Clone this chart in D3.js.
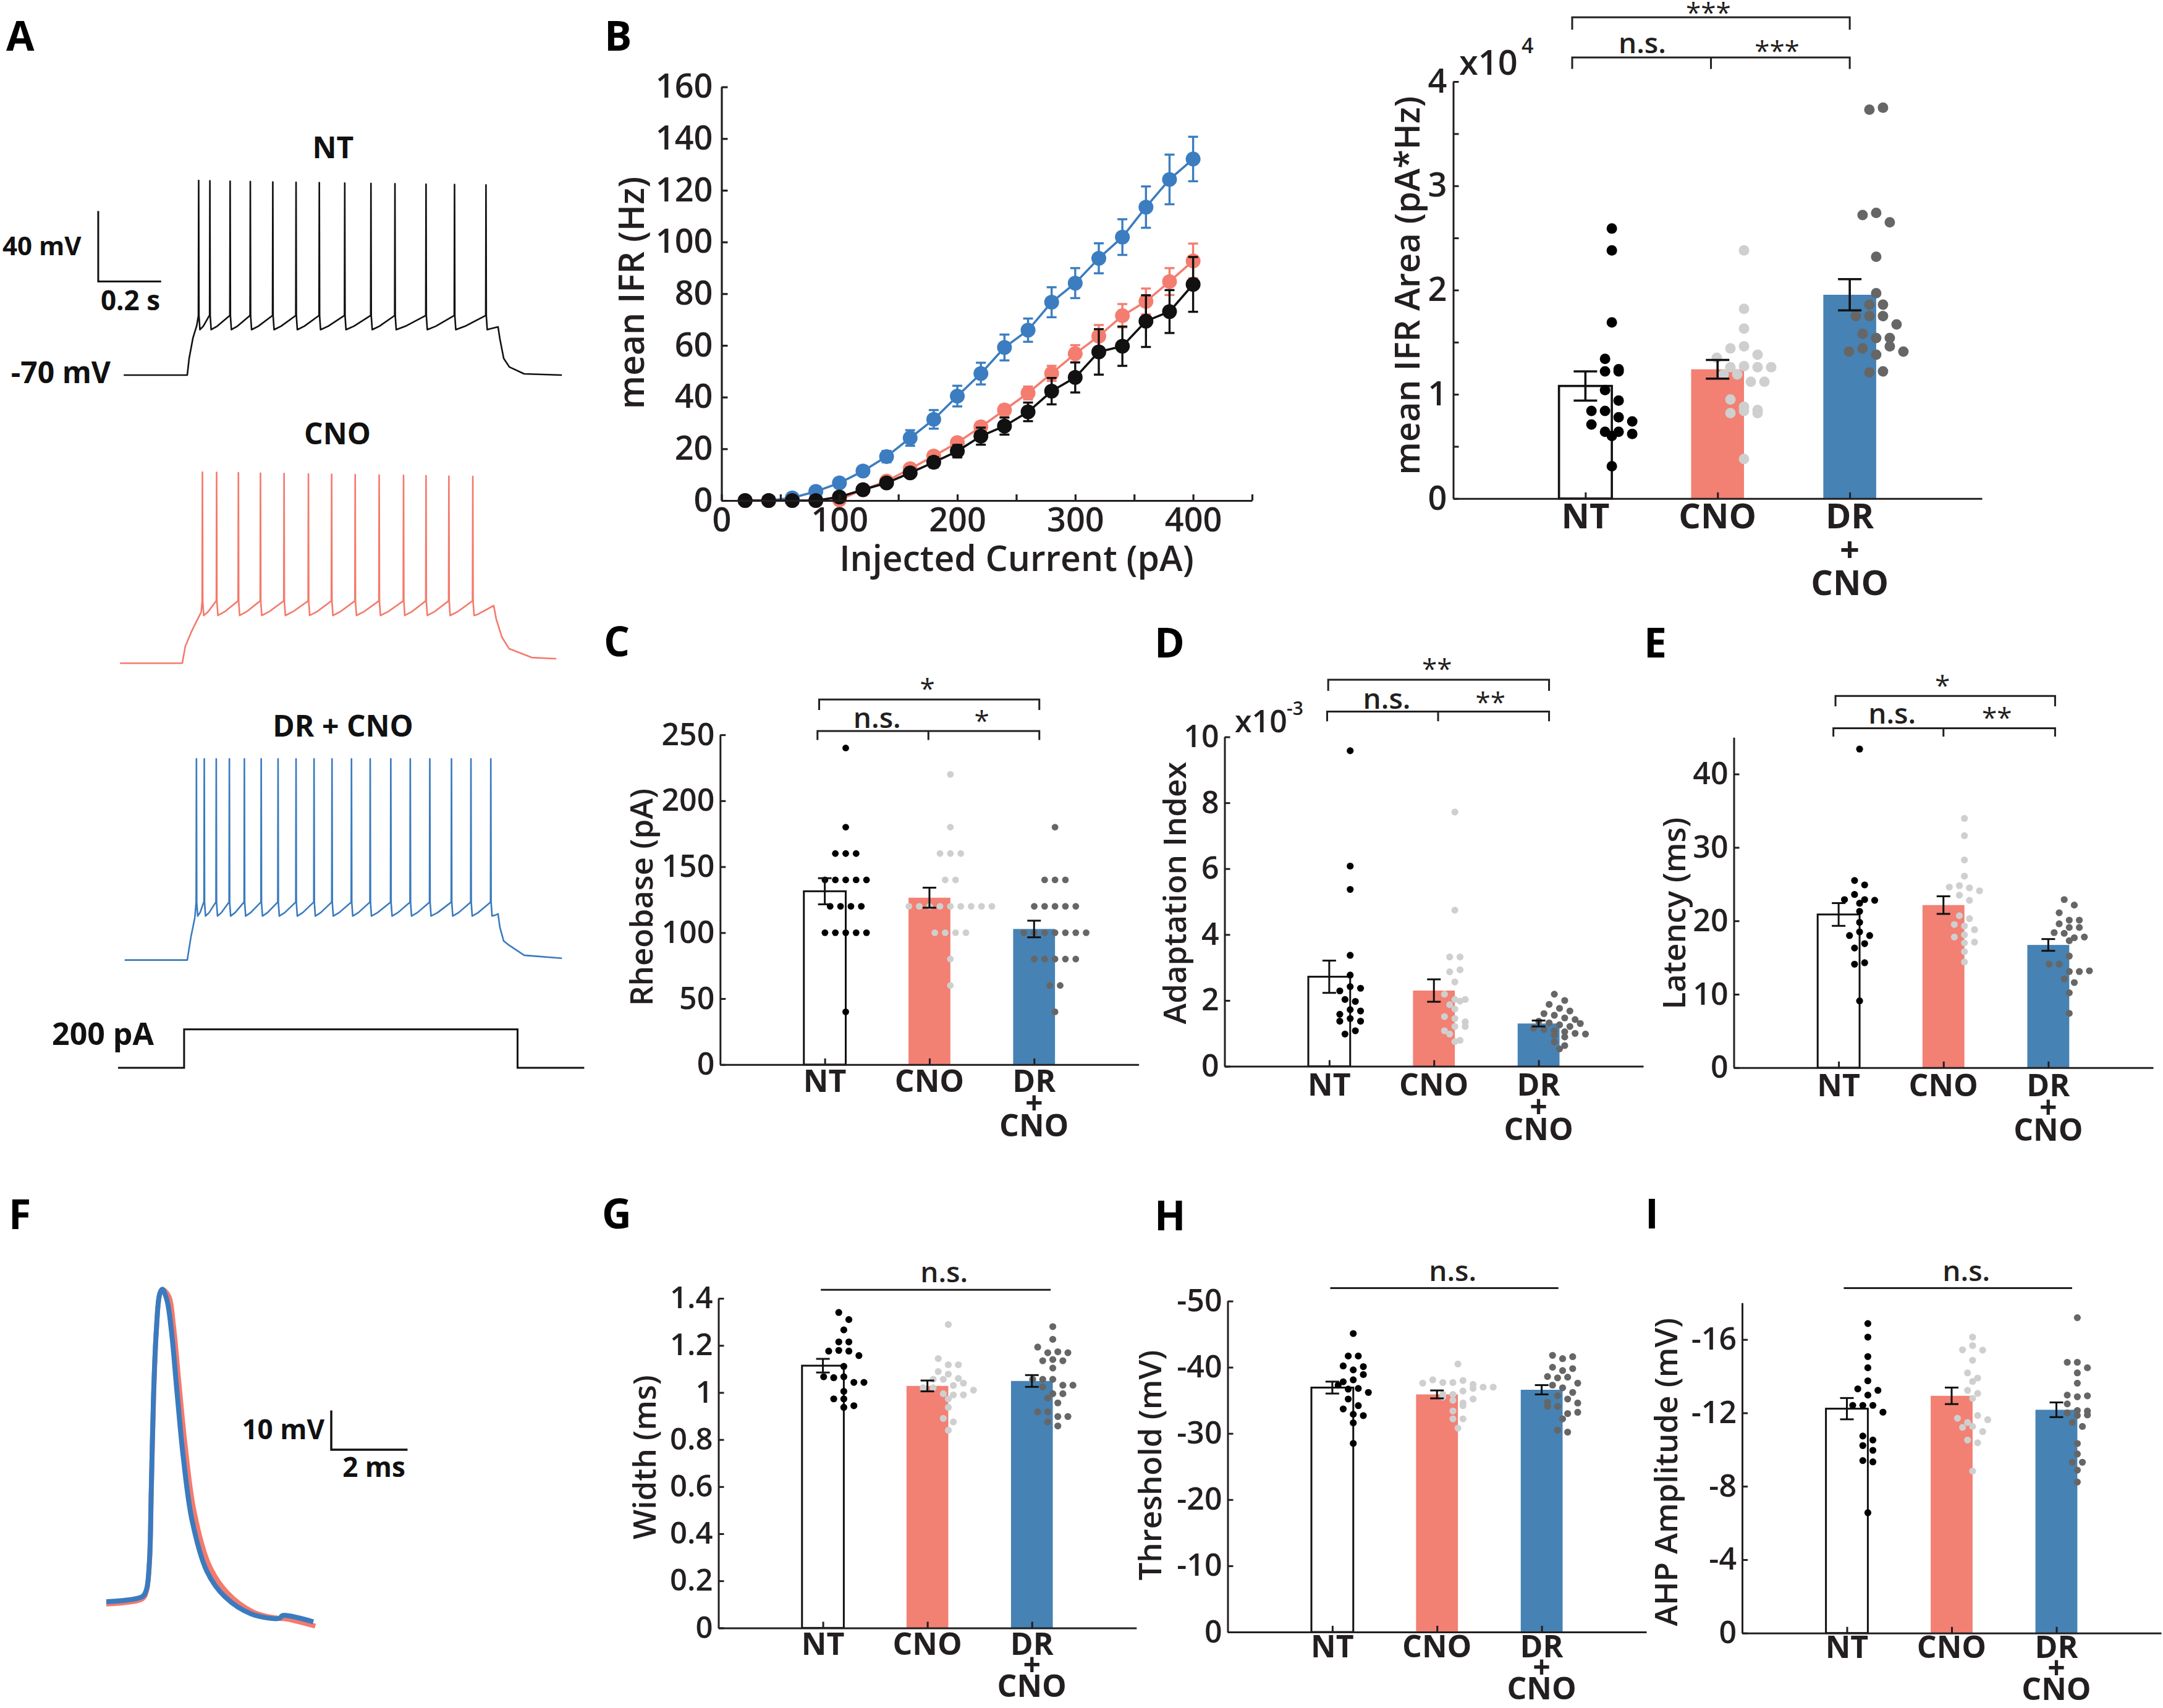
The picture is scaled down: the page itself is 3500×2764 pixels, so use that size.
<!DOCTYPE html>
<html><head><meta charset="utf-8">
<script src="https://cdn.jsdelivr.net/npm/d3@7/dist/d3.min.js"></script>
<style>body{margin:0;background:#fff}svg{display:block}</style>
</head><body>
<svg id="fig" width="3500" height="2764"></svg>
<script>
// ===================== DATA =====================
const groups = ["NT", "CNO", "DR + CNO"];

// Panel A: spike times (ms after current-step onset)
const spikesNT  = [35.8, 71.5, 135.8, 200, 271.5, 345.4, 419.3, 500.2, 583.5, 659.8, 758.6, 849.2, 949.2];
const spikesCNO = [63.5, 108.6, 177.8, 248, 323, 400.4, 474.3, 549.1, 625.3, 702.8, 774.3, 847, 923];
const spikesDR  = [28.7, 53.6, 91.7, 133.4, 181.1, 234.6, 288.2, 345.4, 402.6, 459.7, 521.6, 581.1, 646.6, 708.5, 770.6, 839.5, 901.4, 964.5];
// membrane levels (mV): rest, threshold, trough, first/last peak
const levelsNT  = [-70, -36.3, -44.2, 40.5, 38];
const levelsCNO = [-70, -34.8, -42.9, 38.5, 36];
const levelsDR  = [-70, -37.3, -45.0, 44.2, 44.2];
// onset rise and offset decay samples [ms, mV]
const riseNT  = [[6, -60.5], [18, -49], [30, -42]];
const riseCNO = [[9.4, -60.5], [27.5, -52.7], [45, -46.3], [60, -41]];
const riseDR  = [[12, -56.6], [24, -46]];
const tailNT  = [[988, -42.6], [994, -49.6], [1006, -60.5], [1024, -65.4], [1071, -69.3], [1191, -70]];
const tailCNO = [[990, -37.3], [998, -45], [1016, -55.2], [1039, -61.8], [1111, -66.8], [1189, -67.5]];
const tailDR  = [[988, -43.8], [994, -51.5], [1006, -59.2], [1024, -61.7], [1071, -67.3], [1191, -69]];
const traceStart = [-202, -198, -199];
// injected current step [ms, pA]
const stimSteps = [[-220, 0], [-10, 0], [-10, 200], [1050, 200], [1050, 0], [1262, 0]];

// Panel B: mean IFR vs injected current
const currents = [20, 40, 60, 80, 100, 120, 140, 160, 180, 200, 220, 240, 260, 280, 300, 320, 340, 360, 380, 400];
const ifrDR     = [0, 0, 1, 3.5, 6.8, 11.4, 17, 24.2, 31.4, 40.4, 49.1, 59.2, 65.9, 76.7, 84.1, 93.7, 101.9, 113.5, 124.2, 132.1];
const ifrDRerr  = [0, 0, 0.3, 0.8, 1.2, 1.8, 2.2, 3, 3.6, 4, 4.2, 5, 4.5, 5.8, 5.8, 5.8, 6.9, 8, 9.6, 8.6];
const ifrCNO    = [0, 0, 0, 0, 0.3, 4.2, 7.5, 12.3, 17.2, 22.4, 28.5, 35, 41.6, 49.2, 56.8, 63.6, 71.5, 77, 84.7, 92.7];
const ifrCNOerr = [0, 0, 0, 0, 0.2, 0.8, 1, 1.3, 1.5, 1.7, 1.8, 2, 2.5, 2.9, 3.3, 4.3, 4.5, 5, 5.2, 6.7];
const ifrNT     = [0, 0, 0, 0, 1.4, 4.2, 6.8, 10.7, 14.8, 19.1, 24.9, 28.8, 34.3, 42.3, 47.6, 57.5, 59.7, 69.4, 73.1, 83.6];
const ifrNTerr  = [0, 0, 0, 0.3, 0.6, 1, 1.2, 1.5, 2, 2.4, 3.3, 3.3, 3.6, 5.1, 5.8, 8.8, 7.6, 10, 8.3, 10.6];
const ifrXTicks = [0, 50, 100, 150, 200, 250, 300, 350, 400, 450];
const ifrYTicks = [0, 20, 40, 60, 80, 100, 120, 140, 160];

// Panel B right: IFR area (x10^4 pA*Hz)
const areaNT  = [2.59, 2.38, 1.69, 1.34, 1.22, 1.24, 1.22, 1.04, 0.94, 0.84, 0.84, 0.78, 0.71, 0.74, 0.60, 0.64, 0.64, 0.62, 0.31];
const areaCNO = [2.38, 1.82, 1.63, 1.44, 1.46, 1.35, 1.38, 1.26, 1.27, 1.26, 1.26, 1.19, 1.19, 1.12, 1.12, 0.95, 0.88, 0.82, 0.84, 0.85, 0.82, 0.38];
const areaDR  = [3.73, 3.75, 2.72, 2.74, 2.65, 2.32, 1.97, 1.86, 1.86, 1.75, 1.75, 1.75, 1.67, 1.58, 1.54, 1.54, 1.41, 1.44, 1.38, 1.46, 1.41, 1.21, 1.22];
const areaMean = [1.08, 1.24, 1.955];
const areaSem  = [0.14, 0.09, 0.15];
const areaTicks = [0, 1, 2, 3, 4];

// Panel C: rheobase (pA)
const rheoNT  = [240, 180, 160, 160, 160, 140, 140, 140, 140, 140, 120, 120, 120, 120, 100, 100, 100, 100, 100, 40];
const rheoCNO = [220, 180, 160, 160, 160, 140, 140, 120, 120, 120, 120, 120, 120, 120, 120, 120, 100, 100, 100, 100, 80, 60];
const rheoDR  = [180, 140, 140, 140, 120, 120, 120, 120, 120, 100, 100, 100, 100, 100, 100, 100, 80, 80, 80, 80, 80, 60, 60, 40];
const rheoMean = [131.4, 126.5, 102.8];
const rheoSem  = [9.9, 7.6, 6.3];
const rheoTicks = [0, 50, 100, 150, 200, 250];

// Panel D: adaptation index (x10^-3)
const adaptNT  = [9.58, 6.08, 5.37, 3.37, 2.77, 2.29, 2.42, 2.37, 2.03, 1.97, 1.58, 1.72, 1.68, 1.37, 1.45, 1.37, 0.98, 1.08];
const adaptCNO = [7.72, 4.74, 3.32, 3.32, 2.87, 2.93, 2.56, 2.19, 1.87, 2.03, 2.03, 1.98, 1.74, 1.51, 1.45, 1.35, 1.08, 1.21, 1.21, 0.98, 0.75, 0.79];
const adaptDR  = [2.19, 2.0, 1.88, 1.76, 1.68, 1.6, 1.55, 1.47, 1.42, 1.37, 1.32, 1.26, 1.21, 1.16, 1.12, 1.08, 1.05, 1.0, 0.98, 0.95, 0.89, 0.74, 0.53, 0.63, 1.3];
const adaptMean = [2.72, 2.3, 1.3];
const adaptSem  = [0.49, 0.34, 0.09];
const adaptTicks = [0, 2, 4, 6, 8, 10];

// Panel E: latency (ms)
const latNT  = [43.4, 25.5, 24.9, 22.9, 23.6, 22.9, 22.8, 22.4, 21.3, 19.8, 18.0, 18.5, 18.0, 16.3, 16.9, 14.1, 14.3, 9.1];
const latCNO = [33.95, 31.6, 28.3, 26.1, 24.6, 24.8, 24.5, 24.1, 23.5, 22.8, 20.7, 20.3, 19.5, 19.3, 18.8, 17.8, 18.1, 17.1, 17.0, 15.8, 14.4];
const latDR  = [22.9, 22.15, 21.1, 19.6, 20.1, 20.1, 19.1, 19.1, 18.4, 18.3, 17.7, 17.8, 17.3, 15.2, 14.1, 14.1, 13.1, 13.1, 13.2, 12.1, 11.6, 10.2, 7.4];
const latMean = [20.87, 22.15, 16.72];
const latSem  = [1.55, 1.2, 0.8];
const latTicks = [0, 10, 20, 30, 40];

// Panel F: averaged action potential (ms, mV relative to baseline)
const apTime = [0, 0.94, 1.05, 1.13, 1.18, 1.24, 1.31, 1.40, 1.47, 1.59, 1.71, 1.86, 2.02, 2.25, 2.64, 3.11, 3.80, 4.54, 4.62, 5.43];
const apCNO  = [-0.6, 0.7, 2.6, 9.6, 28, 52, 68.4, 78, 79.3, 77.6, 70.2, 55, 39.5, 23, 9.4, 2.4, -2.6, -4.3, -4.3, -6.2];
const apDR   = [0, 1.26, 2.98, 10.1, 28.6, 52.6, 68.6, 78.2, 79.4, 76.6, 68.6, 52.6, 36.6, 20.6, 7.7, 1.26, -3.1, -4.2, -3.5, -5.1];

// Panel G: spike width (ms)
const widthNT  = [1.34, 1.31, 1.266, 1.215, 1.215, 1.176, 1.179, 1.176, 1.157, 1.111, 1.067, 1.063, 1.067, 1.043, 1.043, 1.005, 0.973, 0.973, 0.937, 0.944];
const widthCNO = [1.289, 1.144, 1.118, 1.118, 1.089, 1.078, 1.056, 1.056, 1.06, 1.02, 1.02, 0.995, 0.99, 0.99, 0.973, 0.937, 0.89, 0.875, 0.84, 1.03, 1.01, 1.04];
const widthDR  = [1.28, 1.226, 1.193, 1.169, 1.173, 1.169, 1.135, 1.14, 1.135, 1.104, 1.056, 1.056, 1.056, 1.031, 1.024, 1.031, 0.995, 0.995, 0.976, 0.956, 0.918, 0.918, 0.898, 0.898, 0.875, 0.858];
const widthMean = [1.114, 1.028, 1.049];
const widthSem  = [0.029, 0.023, 0.025];
const widthTicks = [0, 0.2, 0.4, 0.6, 0.8, 1, 1.2, 1.4];

// Panel H: threshold (mV)
const threshNT  = [-45.1, -41.7, -41.7, -40.2, -39.6, -40.1, -37.8, -38.1, -37.3, -36.7, -36.8, -35.2, -34.2, -33.7, -32.9, -32.7, -31.6, -28.5, -36.2, -38.9];
const threshCNO = [-40.5, -37.6, -38.1, -37.7, -37.7, -38.0, -37.4, -37.0, -37.0, -35.9, -35.9, -35.5, -35.0, -34.6, -33.4, -32.2, -32.2, -30.8, -36.4, -36.8, -35.2, -34.2];
const threshDR  = [-41.8, -41.3, -41.6, -40.0, -39.5, -39.8, -38.6, -38.4, -38.5, -37.3, -37.6, -36.9, -36.2, -34.7, -35.7, -35.2, -34.6, -34.1, -34.1, -33.0, -33.2, -32.2, -30.5, -30.2];
const threshMean = [-36.93, -35.9, -36.6];
const threshSem  = [0.9, 0.6, 0.7];
const threshTicks = [0, -10, -20, -30, -40, -50];

// Panel I: AHP amplitude (mV)
const ahpNT  = [-16.87, -16.13, -15.07, -14.46, -13.75, -13.31, -12.97, -13.23, -12.41, -12.41, -12.41, -12.04, -10.74, -10.52, -10.22, -9.96, -9.4, -9.33, -6.56];
const ahpCNO = [-16.13, -15.44, -15.67, -15.42, -14.87, -14.18, -13.9, -13.71, -13.23, -13.06, -12.79, -11.71, -11.48, -11.86, -11.63, -11.21, -11.26, -10.98, -10.52, -10.37, -8.83];
const ahpDR  = [-17.19, -14.76, -14.76, -14.46, -14.18, -13.62, -12.97, -12.88, -12.93, -12.49, -12.13, -12.0, -11.86, -11.89, -12.1, -11.48, -11.26, -10.33, -9.76, -9.31, -9.31, -8.88, -8.23];
const ahpMean = [-12.23, -12.93, -12.17];
const ahpSem  = [0.58, 0.45, 0.4];
const ahpTicks = [0, -4, -8, -12, -16];

// ===================== STYLE / LAYOUT =====================
const FONT = "'Open Sans', 'Noto Sans', sans-serif";
const INK = "#231f20";
const barFill = ["#ffffff", "#f28073", "#4682b4"];
const dotFill = ["#000000", "#cfcfcf", "#666666"];
const lineCol = ["#111111", "#f47d70", "#3b7dc0"];

const svg = d3.select("#fig");
svg.append("rect").attr("width", 3500).attr("height", 2764).attr("fill", "#fff");

function T(g, x, y, s, fs, o = {}) {
  return g.append("text").attr("x", x).attr("y", y).text(s)
    .attr("font-family", FONT).attr("font-size", fs)
    .attr("font-weight", o.w || 600).attr("text-anchor", o.a || "start")
    .attr("fill", o.c || INK);
}
function styleAxis(ga, sw) {
  ga.selectAll("path.domain").attr("stroke", INK).attr("stroke-width", sw);
  ga.selectAll(".tick line").attr("stroke", INK).attr("stroke-width", sw);
  ga.selectAll(".tick text").attr("fill", INK).attr("font-family", FONT).attr("font-weight", 600);
}

// panel letters
[["A", 10, 82], ["B", 978, 82], ["C", 977, 1062], ["D", 1868, 1064], ["E", 2660, 1064],
 ["F", 14, 1989], ["G", 974, 1988], ["H", 1868, 1991], ["I", 2662, 1988]]
  .forEach(([l, x, y]) => T(svg, x, y, l, 66, { w: 700, c: "#000" }));

// ===================== PANEL A =====================
function buildTrace(sp, lv, rise, tail, t0) {
  const [rest, thr, trough, pk0, pk1] = lv;
  const pts = [[t0, rest], [0, rest]];
  rise.forEach(p => pts.push(p));
  sp.forEach((ts, i) => {
    const pk = pk0 + (pk1 - pk0) * i / Math.max(1, sp.length - 1);
    pts.push([ts - 0.4, thr], [ts + 0.5, pk], [ts + 1.4, thr], [ts + 4.5, trough]);
    if (i < sp.length - 1) {
      const gap = sp[i + 1] - ts;
      pts.push([ts + 4.5 + gap * 0.3, trough + (thr - trough) * 0.25]);
      pts.push([sp[i + 1] - 1.5, thr]);
    } else {
      pts.push([ts + 4.5 + 10, trough + 0.5]);
    }
  });
  tail.forEach(p => pts.push(p));
  return pts;
}
const pxPerMs = 0.509, pxPerMv = 2.85;
const traceLayout = [
  { sp: spikesNT, lv: levelsNT, rise: riseNT, tail: tailNT, onset: 303, base: 607, col: "#111111" },
  { sp: spikesCNO, lv: levelsCNO, rise: riseCNO, tail: tailCNO, onset: 295, base: 1073.2, col: "#f47a6c" },
  { sp: spikesDR, lv: levelsDR, rise: riseDR, tail: tailDR, onset: 303, base: 1553.6, col: "#3a7bbf" }
];
const gA = svg.append("g");
traceLayout.forEach((tl, k) => {
  const xs = d3.scaleLinear().domain([0, 1000]).range([tl.onset, tl.onset + 1000 * pxPerMs]);
  const ys = d3.scaleLinear().domain([-70, 30]).range([tl.base, tl.base - 100 * pxPerMv]);
  const pts = buildTrace(tl.sp, tl.lv, tl.rise, tl.tail, traceStart[k]);
  gA.append("path").attr("d", d3.line().x(d => xs(d[0])).y(d => ys(d[1]))(pts))
    .attr("fill", "none").attr("stroke", tl.col).attr("stroke-width", 2.6).attr("stroke-linejoin", "round");
  if (k === 0) {
    // scale bars 40 mV / 0.2 s
    gA.append("path").attr("d", d3.line()([[xs(-283), ys(23.2)], [xs(-283), ys(-16.8)], [xs(-83), ys(-16.8)]]))
      .attr("fill", "none").attr("stroke", "#111").attr("stroke-width", 3);
  }
});
T(gA, 539, 256, "NT", 48, { a: "middle", w: 700, c: "#111" });
T(gA, 546, 719, "CNO", 48, { a: "middle", w: 700, c: "#111" });
T(gA, 555, 1192, "DR + CNO", 48, { a: "middle", w: 700, c: "#111" });
T(gA, 4, 413, "40 mV", 42, { w: 700, c: "#111" });
T(gA, 211, 502, "0.2 s", 44, { a: "middle", w: 700, c: "#111" });
T(gA, 179, 620, "-70 mV", 48, { a: "end", w: 700, c: "#111" });
T(gA, 249, 1691, "200 pA", 50, { a: "end", w: 700, c: "#111" });
{
  const xs = d3.scaleLinear().domain([0, 1000]).range([303, 303 + 1000 * pxPerMs]);
  const ys = d3.scaleLinear().domain([0, 200]).range([1728, 1665.8]);
  gA.append("path").attr("d", d3.line().x(d => xs(d[0])).y(d => ys(d[1]))(stimSteps))
    .attr("fill", "none").attr("stroke", "#111").attr("stroke-width", 3);
}

// ===================== PANEL B (line) =====================
{
  const g = svg.append("g");
  const x = d3.scaleLinear().domain([0, 450]).range([1167.5, 2026]);
  const y = d3.scaleLinear().domain([0, 160]).range([810, 140.6]);
  const series = [
    { v: ifrDR, e: ifrDRerr, c: lineCol[2] },
    { v: ifrCNO, e: ifrCNOerr, c: lineCol[1] },
    { v: ifrNT, e: ifrNTerr, c: lineCol[0] }
  ];
  series.forEach(s => {
    const pts = currents.map((c, i) => [c, s.v[i], s.e[i]]);
    g.append("path").attr("d", d3.line().x(d => x(d[0])).y(d => y(d[1]))(pts))
      .attr("fill", "none").attr("stroke", s.c).attr("stroke-width", 3.6);
    const eb = g.append("g").attr("stroke", s.c).attr("stroke-width", 3.4);
    pts.forEach(d => {
      if (d[2] <= 0) return;
      eb.append("line").attr("x1", x(d[0])).attr("x2", x(d[0])).attr("y1", y(d[1] - d[2])).attr("y2", y(d[1] + d[2]));
      [d[1] - d[2], d[1] + d[2]].forEach(v => eb.append("line").attr("x1", x(d[0]) - 8).attr("x2", x(d[0]) + 8).attr("y1", y(v)).attr("y2", y(v)));
    });
    g.selectAll(null).data(pts).enter().append("circle")
      .attr("cx", d => x(d[0])).attr("cy", d => y(d[1])).attr("r", 12).attr("fill", s.c);
  });
  const ax = g.append("g").attr("transform", "translate(0,810)")
    .call(d3.axisBottom(x).tickValues(ifrXTicks).tickSize(-10).tickSizeOuter(0).tickPadding(12)
      .tickFormat(d => (d % 100 === 0 && d <= 400) ? d : ""));
  ax.selectAll(".tick text").attr("font-size", 54);
  styleAxis(ax, 3.2);
  const ay = g.append("g").attr("transform", "translate(1167.5,0)")
    .call(d3.axisLeft(y).tickValues(ifrYTicks).tickSize(-10).tickSizeOuter(0).tickPadding(14));
  ay.selectAll(".tick text").attr("font-size", 54);
  styleAxis(ay, 3.2);
  T(g, 1645, 924, "Injected Current (pA)", 57, { a: "middle" });
  T(g, 0, 0, "mean IFR (Hz)", 57, { a: "middle" }).attr("dy", "0.35em")
    .attr("transform", "translate(1022,474) rotate(-90)");
}

// ===================== BAR PANELS =====================
function swarm(vals, y, binPx, step) {
  const pts = vals.map((v, i) => ({ v, y: y(v), i }));
  const sorted = pts.slice().sort((a, b) => a.y - b.y);
  const bins = [];
  let cur = null;
  sorted.forEach(p => {
    if (!cur || p.y - cur.y0 > binPx) { cur = { y0: p.y, items: [] }; bins.push(cur); }
    cur.items.push(p);
  });
  bins.forEach(b => {
    const n = b.items.length;
    b.items.sort((a, c) => a.i - c.i).forEach((p, k) => { p.dx = (k - (n - 1) / 2) * step; });
  });
  return pts;
}

function barPanel(o) {
  const g = svg.append("g");
  const x = d3.scaleLinear().domain([0, 4]).range([o.x0, o.x1]);
  const y = d3.scaleLinear().domain(o.dom).range([o.yb, o.yt]);
  const w = x(0.4) - x(0);
  // bars
  g.selectAll(null).data(o.mean).enter().append("rect")
    .attr("x", (d, i) => x(i + 1) - w / 2).attr("width", w)
    .attr("y", d => Math.min(y(d), y(0))).attr("height", d => Math.abs(y(0) - y(d)))
    .attr("fill", (d, i) => barFill[i])
    .attr("stroke", (d, i) => i === 0 ? "#111" : "none").attr("stroke-width", o.sw);
  // individual points
  o.pts.forEach((vals, i) => {
    const pts = swarm(vals, y, o.bin, o.step);
    g.selectAll(null).data(pts).enter().append("circle")
      .attr("cx", d => x(i + 1.2) + d.dx).attr("cy", d => d.y).attr("r", o.r).attr("fill", dotFill[i]);
  });
  // error bars
  const eb = g.append("g").attr("stroke", "#111").attr("stroke-width", o.sw);
  o.mean.forEach((m, i) => {
    const cx = x(i + 1), lo = m - o.sem[i], hi = m + o.sem[i];
    eb.append("line").attr("x1", cx).attr("x2", cx).attr("y1", y(lo)).attr("y2", y(hi));
    [lo, hi].forEach(v => eb.append("line").attr("x1", cx - o.cap).attr("x2", cx + o.cap).attr("y1", y(v)).attr("y2", y(v)));
  });
  // axes
  const ay = g.append("g").attr("transform", `translate(${o.x0},0)`)
    .call(d3.axisLeft(y).tickValues(o.ticks).tickSize(-9).tickSizeOuter(0).tickPadding(o.pad || 9)
      .tickFormat(o.fmt || (d => d)));
  ay.selectAll(".tick text").attr("font-size", o.fs);
  styleAxis(ay, 3);
  if (o.minor) {
    const am = g.append("g").attr("transform", `translate(${o.x0},0)`)
      .call(d3.axisLeft(y).tickValues(o.minor).tickSize(-9).tickSizeOuter(0).tickFormat(""));
    am.select("path.domain").remove();
    styleAxis(am, 3);
  }
  const ax = g.append("g").attr("transform", `translate(0,${y(0)})`)
    .call(d3.axisBottom(x).tickValues([1, 2, 3]).tickSize(-10).tickSizeOuter(0).tickFormat(""));
  styleAxis(ax, 3);
  // category labels
  groups.forEach((name, i) => {
    const lines = name === "DR + CNO" ? ["DR", "+", "CNO"] : [name];
    lines.forEach((l, k) => T(g, x(i + 1), y(0) + o.base + k * o.lh, l, o.cfs, { a: "middle", w: 700 }));
  });
  // y label
  T(g, 0, 0, o.lab, o.lfs, { a: "middle" }).attr("dy", "0.35em")
    .attr("transform", `translate(${o.labX},${o.labY}) rotate(-90)`);
  // multiplier
  if (o.mult) {
    T(g, o.mult.x, o.mult.y, "x10", o.mult.fs);
    T(g, o.mult.sx, o.mult.sy, o.mult.sup, o.mult.sfs);
  }
  // significance brackets
  o.br.forEach(b => {
    const p = [[x(b.l), b.y + b.d], [x(b.l), b.y], [x(b.r), b.y], [x(b.r), b.y + b.d]];
    g.append("path").attr("d", d3.line()(b.d ? p : p.slice(1, 3))).attr("fill", "none")
      .attr("stroke", INK).attr("stroke-width", 3);
    if (b.mid) g.append("line").attr("x1", x(b.mid)).attr("x2", x(b.mid)).attr("y1", b.y).attr("y2", b.y + b.d)
      .attr("stroke", INK).attr("stroke-width", 3);
    b.labs.forEach(l => {
      if (l.t.startsWith("*")) T(g, x(l.u), l.y + 24, l.t, 44, { a: "middle", w: 400 });
      else T(g, x(l.u), l.y, l.t, l.fs || 46, { a: "middle" });
    });
  });
}

const fmt1 = d => d3.format("~g")(d);

barPanel({ pts: [areaNT, areaCNO, areaDR], mean: areaMean, sem: areaSem, ticks: areaTicks, minor: [0.5, 1.5, 2.5, 3.5],
  x0: 2351.5, x1: 3207, yb: 806.8, yt: 132, dom: [0, 4], fs: 54, cfs: 56, base: 48, lh: 54, lfs: 56,
  lab: "mean IFR Area (pA*Hz)", labX: 2277, labY: 462, r: 8.5, step: 22, bin: 18, cap: 19, sw: 3.6, pad: 10,
  mult: { x: 2361, y: 121, fs: 56, sx: 2462, sy: 86, sup: "4", sfs: 34 },
  br: [{ l: 0.9, r: 3.0, y: 28, d: 20, labs: [{ t: "***", u: 1.93, y: 12 }] },
       { l: 0.9, r: 3.0, y: 93, d: 18.6, mid: 1.95, labs: [{ t: "n.s.", u: 1.43, y: 86 }, { t: "***", u: 2.45, y: 74 }] }] });

barPanel({ pts: [rheoNT, rheoCNO, rheoDR], mean: rheoMean, sem: rheoSem, ticks: rheoTicks,
  x0: 1165.3, x1: 1842.6, yb: 1722.8, yt: 1189.1, dom: [0, 250], fs: 50, cfs: 50, base: 44, lh: 36, lfs: 51,
  lab: "Rheobase (pA)", labX: 1038, labY: 1452, r: 5.4, step: 16.8, bin: 3, cap: 11, sw: 3,
  br: [{ l: 0.946, r: 3.05, y: 1132, d: 17, labs: [{ t: "*", u: 1.98, y: 1106 }] },
       { l: 0.93, r: 3.05, y: 1183, d: 14.5, mid: 1.99, labs: [{ t: "n.s.", u: 1.5, y: 1178 }, { t: "*", u: 2.5, y: 1158 }] }] });

barPanel({ pts: [adaptNT, adaptCNO, adaptDR], mean: adaptMean, sem: adaptSem, ticks: adaptTicks,
  x0: 1981.5, x1: 2659, yb: 1725.6, yt: 1192.5, dom: [0, 10], fs: 50, cfs: 50, base: 47, lh: 36, lfs: 51,
  lab: "Adaptation Index", labX: 1901, labY: 1445, r: 5.6, step: 16.8, bin: 11, cap: 11, sw: 3,
  mult: { x: 1998, y: 1185, fs: 50, sx: 2082, sy: 1157, sup: "-3", sfs: 30 },
  br: [{ l: 0.99, r: 3.1, y: 1100, d: 18, labs: [{ t: "**", u: 2.03, y: 1074 }] },
       { l: 0.98, r: 3.1, y: 1151.5, d: 15.7, mid: 2.04, labs: [{ t: "n.s.", u: 1.55, y: 1147 }, { t: "**", u: 2.54, y: 1128 }] }] });

barPanel({ pts: [latNT, latCNO, latDR], mean: latMean, sem: latSem, ticks: latTicks,
  x0: 2805.5, x1: 3484, yb: 1727.8, yt: 1193.2, dom: [0, 45], fs: 50, cfs: 50, base: 46, lh: 36, lfs: 51,
  lab: "Latency (ms)", labX: 2709, labY: 1478, r: 5.6, step: 16.3, bin: 12, cap: 11, sw: 3,
  br: [{ l: 0.97, r: 3.065, y: 1126.3, d: 16.7, labs: [{ t: "*", u: 1.99, y: 1101 }] },
       { l: 0.95, r: 3.065, y: 1178.5, d: 13.5, mid: 2.0, labs: [{ t: "n.s.", u: 1.51, y: 1171 }, { t: "**", u: 2.51, y: 1153 }] }] });

barPanel({ pts: [widthNT, widthCNO, widthDR], mean: widthMean, sem: widthSem, ticks: widthTicks, fmt: fmt1,
  x0: 1162.5, x1: 1838.8, yb: 2634.4, yt: 2101.1, dom: [0, 1.4], fs: 49, cfs: 50, base: 44, lh: 34, lfs: 51,
  lab: "Width (ms)", labX: 1043, labY: 2358, r: 5.6, step: 16.3, bin: 12, cap: 11, sw: 3,
  br: [{ l: 0.98, r: 3.18, y: 2087.3, d: 0, labs: [{ t: "n.s.", u: 2.16, y: 2075 }] }] });

barPanel({ pts: [threshNT, threshCNO, threshDR], mean: threshMean, sem: threshSem, ticks: threshTicks,
  x0: 1986.5, x1: 2664, yb: 2641, yt: 2105.5, dom: [0, -50], fs: 50, cfs: 50, base: 41, lh: 34, lfs: 51,
  lab: "Threshold (mV)", labX: 1861, labY: 2371, r: 5.6, step: 16.3, bin: 12, cap: 11, sw: 3,
  br: [{ l: 0.98, r: 3.16, y: 2084.6, d: 0, labs: [{ t: "n.s.", u: 2.15, y: 2073 }] }] });

barPanel({ pts: [ahpNT, ahpCNO, ahpDR], mean: ahpMean, sem: ahpSem, ticks: ahpTicks,
  x0: 2819, x1: 3497, yb: 2642.7, yt: 2108.3, dom: [0, -18], fs: 50, cfs: 50, base: 40, lh: 34, lfs: 51,
  lab: "AHP Amplitude (mV)", labX: 2696, labY: 2382, r: 5.6, step: 16.3, bin: 12, cap: 11, sw: 3,
  br: [{ l: 0.97, r: 3.15, y: 2084.6, d: 0, labs: [{ t: "n.s.", u: 2.14, y: 2073 }] }] });

// ===================== PANEL F =====================
{
  const g = svg.append("g");
  const x = d3.scaleLinear().domain([0, 1]).range([172, 233.7]);
  const y = d3.scaleLinear().domain([0, 10]).range([2592, 2528.3]);
  const curve = d3.curveCatmullRom.alpha(0.5);
  g.append("path").attr("d", d3.line().curve(curve).x((d, i) => x(apTime[i] + (i > 8 ? 0.05 : 0))).y(d => y(d))(apCNO))
    .attr("fill", "none").attr("stroke", "#f47a6c").attr("stroke-width", 8).attr("stroke-linejoin", "round");
  g.append("path").attr("d", d3.line().curve(curve).x((d, i) => x(apTime[i])).y(d => y(d))(apDR))
    .attr("fill", "none").attr("stroke", "#3a7bbf").attr("stroke-width", 8).attr("stroke-linejoin", "round");
  // scale bars: 10 mV, 2 ms
  g.append("path").attr("d", d3.line()([[x(5.9), y(48.6)], [x(5.9), y(38.6)], [x(7.9), y(38.6)]]))
    .attr("fill", "none").attr("stroke", "#111").attr("stroke-width", 3.5);
  T(g, 525, 2329, "10 mV", 44, { a: "end", w: 700, c: "#111" });
  T(g, 605, 2390, "2 ms", 44, { a: "middle", w: 700, c: "#111" });
}
</script>
</body></html>
